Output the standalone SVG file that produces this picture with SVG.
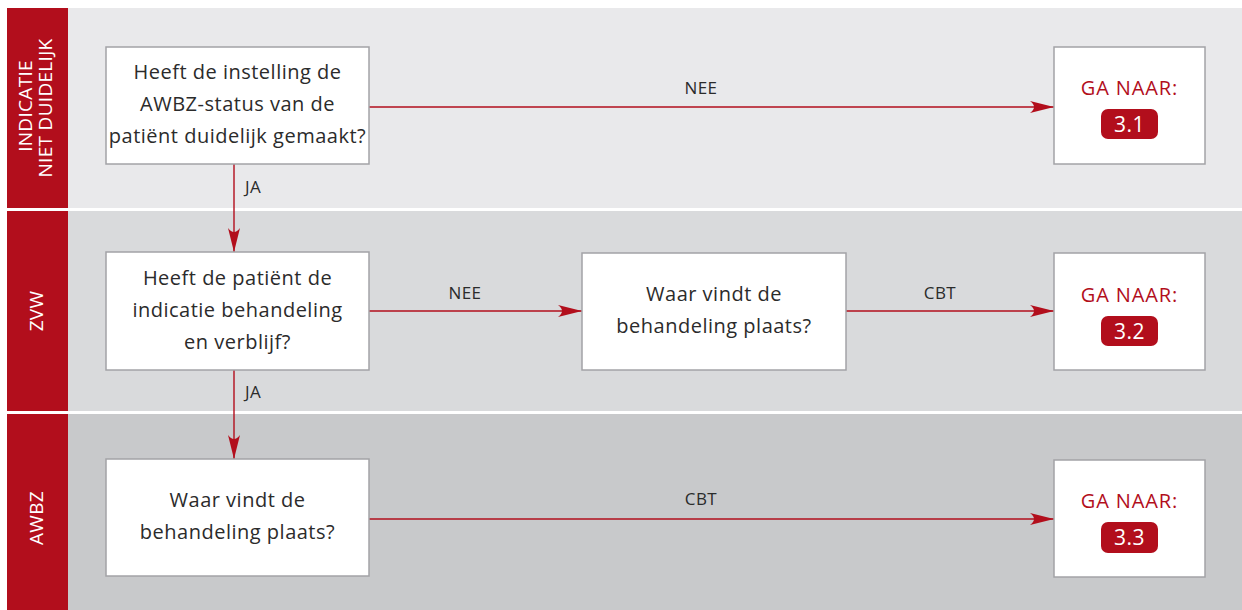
<svg xmlns="http://www.w3.org/2000/svg" width="1242" height="610" viewBox="0 0 1242 610">
<style>
.lane1{fill:#e9e9eb}.lane2{fill:#d9dadc}.lane3{fill:#c8c9cb}
.band{fill:#b20e1c}
.lt{font-family:"Open Sans","Liberation Sans",sans-serif;font-size:19px;fill:#ffffff;text-anchor:middle;letter-spacing:0.3px}
.box{fill:#ffffff;stroke:#a3a3a7;stroke-width:1.5}
.q{font-family:"Open Sans","Liberation Sans",sans-serif;font-size:20px;fill:#2b2b2b;text-anchor:middle;letter-spacing:0.5px}
.lbl{font-family:"Open Sans","Liberation Sans",sans-serif;font-size:17px;fill:#2b2b2b;letter-spacing:0.4px}
.ga{font-family:"Open Sans","Liberation Sans",sans-serif;font-size:20px;fill:#b20e1c;text-anchor:middle;letter-spacing:0.9px}
.badge{fill:#b20e1c}
.bt{font-family:"Open Sans","Liberation Sans",sans-serif;font-size:21px;fill:#ffffff;text-anchor:middle;letter-spacing:0.5px}
.con{stroke:#b20e1c;stroke-width:1.4;fill:none;marker-end:url(#arr)}
</style>
<defs>
<marker id="arr" markerWidth="24" markerHeight="14" refX="24" refY="7" orient="auto" markerUnits="userSpaceOnUse">
<path d="M24,7 L0,1 Q8,7 0,13 Z" fill="#b20e1c"/>
</marker>
</defs>
<rect x="0" y="0" width="1242" height="610" fill="#ffffff"/>
<g id="lane-indicatie">
<rect class="lane1" x="7" y="8" width="1235" height="200"/>
<rect class="band" x="7" y="8" width="61" height="200"/>
<text class="lt" transform="translate(32,106) rotate(-90)">INDICATIE</text>
<text class="lt" transform="translate(52,108) rotate(-90)">NIET DUIDELIJK</text>
</g>
<g id="lane-zvw">
<rect class="lane2" x="7" y="211" width="1235" height="200"/>
<rect class="band" x="7" y="211" width="61" height="200"/>
<text class="lt" transform="translate(43,311) rotate(-90)">ZVW</text>
</g>
<g id="lane-awbz">
<rect class="lane3" x="7" y="414" width="1235" height="196"/>
<rect class="band" x="7" y="414" width="61" height="196"/>
<text class="lt" transform="translate(43,518) rotate(-90)">AWBZ</text>
</g>
<g id="connectors">
<line class="con" x1="369" y1="107" x2="1054" y2="107"/>
<line class="con" x1="234" y1="164" x2="234" y2="252"/>
<line class="con" x1="369" y1="311" x2="582" y2="311"/>
<line class="con" x1="846" y1="311" x2="1054" y2="311"/>
<line class="con" x1="234" y1="370" x2="234" y2="459"/>
<line class="con" x1="369" y1="519" x2="1054" y2="519"/>
<text class="lbl" x="701" y="94" text-anchor="middle">NEE</text>
<text class="lbl" x="245" y="193">JA</text>
<text class="lbl" x="465" y="299" text-anchor="middle">NEE</text>
<text class="lbl" x="940" y="299" text-anchor="middle">CBT</text>
<text class="lbl" x="245" y="398">JA</text>
<text class="lbl" x="701" y="505" text-anchor="middle">CBT</text>
</g>
<g id="q1">
<rect class="box" x="106" y="47" width="263" height="117"/>
<text class="q" x="237.5" y="79">Heeft de instelling de</text>
<text class="q" x="237.5" y="111">AWBZ-status van de</text>
<text class="q" x="237.5" y="143">patiënt duidelijk gemaakt?</text>
</g>
<g id="q2">
<rect class="box" x="106" y="252" width="263" height="118"/>
<text class="q" x="237.5" y="285">Heeft de patiënt de</text>
<text class="q" x="237.5" y="317">indicatie behandeling</text>
<text class="q" x="237.5" y="349">en verblijf?</text>
</g>
<g id="q3">
<rect class="box" x="582" y="253" width="264" height="117"/>
<text class="q" x="714" y="301">Waar vindt de</text>
<text class="q" x="714" y="333">behandeling plaats?</text>
</g>
<g id="q4">
<rect class="box" x="106" y="459" width="263" height="117"/>
<text class="q" x="237.5" y="507">Waar vindt de</text>
<text class="q" x="237.5" y="539">behandeling plaats?</text>
</g>
<g id="goto31">
<rect class="box" x="1054" y="47" width="151" height="117"/>
<text class="ga" x="1129.5" y="95">GA NAAR:</text>
<rect class="badge" x="1101" y="109" width="57" height="30" rx="7"/>
<text class="bt" x="1129.5" y="132">3.1</text>
</g>
<g id="goto32">
<rect class="box" x="1054" y="253" width="151" height="117"/>
<text class="ga" x="1129.5" y="302">GA NAAR:</text>
<rect class="badge" x="1101" y="316" width="57" height="30" rx="7"/>
<text class="bt" x="1129.5" y="339">3.2</text>
</g>
<g id="goto33">
<rect class="box" x="1054" y="460" width="151" height="117"/>
<text class="ga" x="1129.5" y="508">GA NAAR:</text>
<rect class="badge" x="1101" y="522" width="57" height="31" rx="7"/>
<text class="bt" x="1129.5" y="545">3.3</text>
</g>
</svg>
